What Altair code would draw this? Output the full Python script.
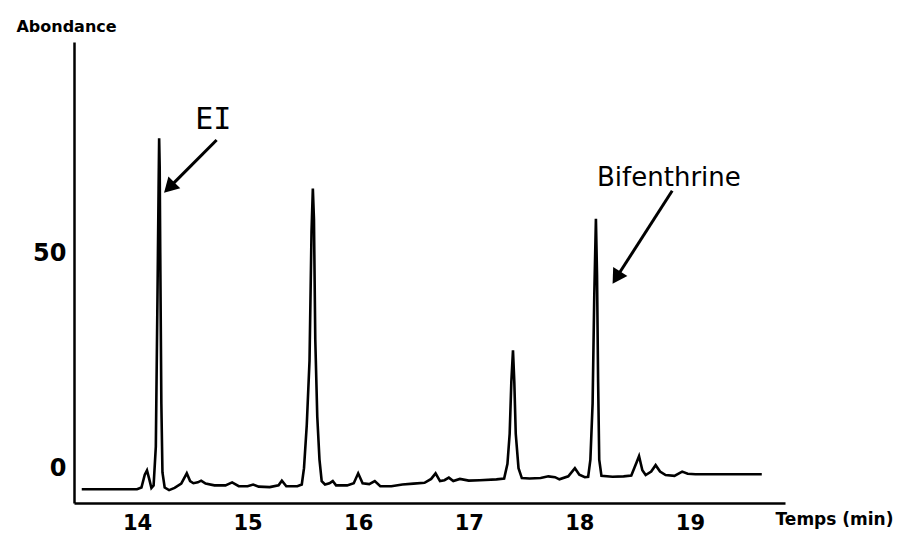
import altair as alt
import pandas as pd
import numpy as np

# --- chromatogram trace (time in min, abundance) ---
times = [13.50, 14.00, 14.04, 14.07, 14.09, 14.11, 14.13, 14.15, 14.17, 14.185,
         14.195, 14.20, 14.205, 14.21, 14.22, 14.23, 14.25, 14.29, 14.34, 14.40,
         14.45, 14.48, 14.51, 14.55, 14.58, 14.62, 14.70, 14.80, 14.86, 14.92,
         15.00, 15.05, 15.10, 15.20, 15.28, 15.31, 15.35, 15.45, 15.49, 15.51,
         15.535, 15.56, 15.578, 15.59, 15.60, 15.612, 15.63, 15.65, 15.67, 15.70,
         15.74, 15.77, 15.80, 15.90, 15.96, 16.00, 16.04, 16.10, 16.15, 16.20,
         16.30, 16.40, 16.50, 16.60, 16.66, 16.70, 16.74, 16.78, 16.82, 16.86,
         16.92, 17.00, 17.10, 17.25, 17.32, 17.35, 17.37, 17.385, 17.40, 17.412,
         17.425, 17.45, 17.48, 17.55, 17.65, 17.72, 17.78, 17.82, 17.90, 17.96,
         18.00, 18.05, 18.08, 18.10, 18.12, 18.135, 18.15, 18.16, 18.17, 18.18,
         18.20, 18.30, 18.40, 18.47, 18.52, 18.54, 18.57, 18.60, 18.65, 18.69,
         18.73, 18.78, 18.86, 18.93, 18.98, 19.05, 19.65]
abundance = [-4.9, -4.9, -4.5, -1.5, -0.5, -2.5, -4.6, -4.0, 5.0, 40.0,
             65.0, 76.7, 70.0, 50.0, 15.0, -1.0, -4.5, -5.1, -4.6, -3.6,
             -1.2, -3.0, -3.5, -3.3, -2.9, -3.6, -4.0, -4.0, -3.3, -4.2,
             -4.2, -3.8, -4.3, -4.4, -4.0, -2.9, -4.2, -4.2, -3.8, 0.0,
             10.0, 25.0, 55.0, 65.0, 58.0, 30.0, 12.0, 2.0, -3.0, -3.8,
             -3.5, -3.0, -4.0, -4.0, -3.5, -1.2, -3.5, -3.7, -3.0, -4.2,
             -4.2, -3.8, -3.6, -3.4, -2.5, -1.2, -3.0, -2.8, -2.2, -3.0,
             -2.5, -2.9, -2.8, -2.6, -2.4, 1.0, 8.0, 20.0, 27.4, 20.0,
             8.0, 0.0, -2.3, -2.4, -2.3, -1.9, -2.1, -2.6, -1.9, 0.0,
             -1.5, -2.1, -2.0, 2.0, 15.0, 40.0, 58.0, 45.0, 20.0, 2.0,
             -1.8, -2.0, -1.9, -1.7, 1.5, 2.8, -0.5, -1.6, -0.8, 0.7,
             -0.8, -1.6, -1.8, -0.8, -1.3, -1.4, -1.4]

# --- annotations ---
ann_labels = ["EI", "Bifenthrine"]
ann_text_x = [14.69, 18.81]
ann_text_y = [80.9, 67.4]
ann_tail_x = [14.72, 18.84]
ann_tail_y = [76.3, 64.5]
ann_tip_x = [14.25, 18.28]
ann_tip_y = [64.2, 42.1]
ann_angle = [225, 212]

x_ticks = [14, 15, 16, 17, 18, 19]
y_ticks = [0, 50]

trace = pd.DataFrame({"t": times, "a": abundance})
ann = pd.DataFrame({
    "label": ann_labels, "tx": ann_text_x, "ty": ann_text_y,
    "x1": ann_tail_x, "y1": ann_tail_y, "x2": ann_tip_x, "y2": ann_tip_y,
    "ang": ann_angle,
})
# arrowhead centre a little back from the tip
ann["hx"] = ann["x2"] + 0.12 * (ann["x1"] - ann["x2"])
ann["hy"] = ann["y2"] + 0.12 * (ann["y1"] - ann["y2"])

xs = alt.Scale(domain=[13.43, 19.86], nice=False, zero=False)
ys = alt.Scale(domain=[-8.1, 99.1], nice=False, zero=False)

FONT = "DejaVu Sans"

line = alt.Chart(trace).mark_line(color="black", strokeWidth=2.6, interpolate="linear").encode(
    x=alt.X("t:Q", scale=xs, axis=alt.Axis(
        values=x_ticks, format="d", title="Temps (min)", ticks=False, grid=False,
        labelFontSize=21, labelFontWeight="bold", labelFont=FONT, labelColor="black",
        labelPadding=9, labelFlush=False,
        titleFontSize=17, titleFontWeight="bold", titleFont=FONT, titleColor="black",
        titleX=760, titleY=16, titleAlign="center", titleBaseline="middle",
        domainColor="black", domainWidth=2.5)),
    y=alt.Y("a:Q", scale=ys, axis=alt.Axis(
        values=y_ticks, format="d", title="Abondance", ticks=False, grid=False,
        labelFontSize=24, labelFontWeight="bold", labelFont=FONT, labelColor="black",
        labelPadding=8, labelFlush=False,
        titleFontSize=16, titleFontWeight="bold", titleFont=FONT, titleColor="black",
        titleAngle=0, titleX=-8, titleY=-16, titleAlign="center", titleBaseline="middle",
        domainColor="black", domainWidth=2.5)),
)

arrows = alt.Chart(ann).mark_rule(color="black", strokeWidth=3).encode(
    x=alt.X("x1:Q", scale=xs), y=alt.Y("y1:Q", scale=ys),
    x2="hx:Q", y2="hy:Q",
)

heads = alt.Chart(ann).mark_point(shape="triangle", filled=True, color="black",
                                  size=280, opacity=1).encode(
    x=alt.X("hx:Q", scale=xs), y=alt.Y("hy:Q", scale=ys),
    angle=alt.Angle("ang:Q", scale=None),
)

text_ei = alt.Chart(ann).transform_filter(alt.datum.label == "EI").mark_text(
    font="DejaVu Sans Mono", fontSize=30, color="black", align="center", baseline="middle"
).encode(x=alt.X("tx:Q", scale=xs), y=alt.Y("ty:Q", scale=ys), text="label:N")

text_bif = alt.Chart(ann).transform_filter(alt.datum.label == "Bifenthrine").mark_text(
    font=FONT, fontSize=26, color="black", align="center", baseline="middle"
).encode(x=alt.X("tx:Q", scale=xs), y=alt.Y("ty:Q", scale=ys), text="label:N")

chart = alt.layer(line, arrows, heads, text_ei, text_bif).properties(
    width=711, height=461,
    autosize=alt.AutoSizeParams(type="none"),
    padding={"left": 74, "top": 42, "right": 113, "bottom": 32},
    background="white",
).configure_view(stroke=None)

chart.save("out.html", embed_options={"renderer": "svg", "actions": False})
